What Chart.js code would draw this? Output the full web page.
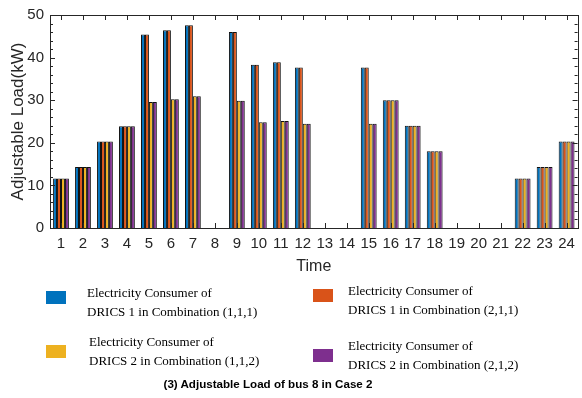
<!DOCTYPE html>
<html>
<head>
<meta charset="utf-8">
<script src="https://cdn.jsdelivr.net/npm/chart.js@4"></script>
<style>
  html, body { margin: 0; padding: 0; background: #fff; }
  #wrap { position: relative; width: 582px; height: 398px; }
  canvas { position: absolute; left: 0; top: 0; }
  .sw { position: absolute; width: 20px; height: 13px; }
  .lt { position: absolute; font-family: "Liberation Serif", "Times New Roman", serif; font-size: 13px; line-height: 19px; color: #000; white-space: nowrap; }
  #cap { position: absolute; left: 0; width: 536px; top: 377px; text-align: center; font-family: "Liberation Sans", Arial, sans-serif; font-weight: bold; font-size: 11.6px; color: #000; }
</style>
</head>
<body>
<div id="wrap">
  <canvas id="c" width="582" height="398"></canvas>
  <div class="sw" style="left:46px;top:291px;background:#0072BD"></div>
  <div class="lt" style="left:87px;top:283px">Electricity Consumer of<br>DRICS 1 in Combination (1,1,1)</div>
  <div class="sw" style="left:313px;top:289px;background:#D95319"></div>
  <div class="lt" style="left:348px;top:281px">Electricity Consumer of<br>DRICS 1 in Combination (2,1,1)</div>
  <div class="sw" style="left:46px;top:345px;background:#EDB120"></div>
  <div class="lt" style="left:89px;top:332px">Electricity Consumer of<br>DRICS 2 in Combination (1,1,2)</div>
  <div class="sw" style="left:313px;top:349px;background:#7E2F8E"></div>
  <div class="lt" style="left:348px;top:336px">Electricity Consumer of<br>DRICS 2 in Combination (2,1,2)</div>
  <div id="cap">(3) Adjustable Load of bus 8 in Case 2</div>
</div>
<script>
// Hours of the day
const hours = ['1','2','3','4','5','6','7','8','9','10','11','12','13','14','15','16','17','18','19','20','21','22','23','24'];

// Adjustable load (kW) per hour for each consumer / combination
const drics1Comb111 = [11.6, 14.3, 20.3, 23.9, 45.4, 46.4, 47.6, 0, 46.0, 38.3, 38.9, 37.7, 0, 0, 37.7, 30.0, 24.0, 18.0, 0, 0, 0, 11.6, 14.3, 20.3];
const drics1Comb211 = [11.6, 14.3, 20.3, 23.9, 45.4, 46.4, 47.6, 0, 46.0, 38.3, 38.9, 37.7, 0, 0, 37.7, 30.0, 24.0, 18.0, 0, 0, 0, 11.6, 14.3, 20.3];
const drics2Comb112 = [11.6, 14.3, 20.3, 23.9, 29.6, 30.2, 30.9, 0, 29.9, 24.8, 25.1, 24.5, 0, 0, 24.5, 30.0, 24.0, 18.0, 0, 0, 0, 11.6, 14.3, 20.3];
const drics2Comb212 = [11.6, 14.3, 20.3, 23.9, 29.6, 30.2, 30.9, 0, 29.9, 24.8, 25.1, 24.5, 0, 0, 24.5, 30.0, 24.0, 18.0, 0, 0, 0, 11.6, 14.3, 20.3];

const yTicks = [0, 10, 20, 30, 40, 50];

const axisColor = '#262626';
const tickFont = { family: '"Liberation Sans", Arial, sans-serif', size: 15 };

// Box around the plot plus inward-pointing tick marks on all four sides
const boxTicks = {
  id: 'boxTicks',
  afterDatasetsDraw(chart) {
    const { ctx, chartArea: a, scales: { x, y } } = chart;
    ctx.save();
    ctx.strokeStyle = axisColor;
    ctx.lineWidth = 1;
    ctx.beginPath();
    for (let v = 0; v <= 50; v += 2) {
      const py = Math.round(y.getPixelForValue(v)) + 0.5;
      const len = v % 10 === 0 ? 5 : 3;
      ctx.moveTo(a.left, py); ctx.lineTo(a.left + len, py);
      ctx.moveTo(a.right, py); ctx.lineTo(a.right - len, py);
    }
    for (let i = 0; i < hours.length; i++) {
      const px = Math.round(x.getPixelForValue(i)) + 0.5;
      ctx.moveTo(px, a.top); ctx.lineTo(px, a.top + 5);
      ctx.moveTo(px, a.bottom); ctx.lineTo(px, a.bottom - 5);
    }
    ctx.stroke();
    ctx.strokeRect(Math.round(a.left) + 0.5, Math.round(a.top) + 0.5,
                   Math.round(a.right - a.left), Math.round(a.bottom - a.top));
    ctx.restore();
  }
};

const mkSet = (label, data, color) => ({
  label, data,
  backgroundColor: color,
  borderColor: '#111',
  borderWidth: 1,
  borderSkipped: 'bottom',
  categoryPercentage: 0.72,
  barPercentage: 1.0
});

new Chart(document.getElementById('c'), {
  type: 'bar',
  data: {
    labels: hours,
    datasets: [
      mkSet('Electricity Consumer of DRICS 1 in Combination (1,1,1)', drics1Comb111, '#0072BD'),
      mkSet('Electricity Consumer of DRICS 1 in Combination (2,1,1)', drics1Comb211, '#D95319'),
      mkSet('Electricity Consumer of DRICS 2 in Combination (1,1,2)', drics2Comb112, '#EDB120'),
      mkSet('Electricity Consumer of DRICS 2 in Combination (2,1,2)', drics2Comb212, '#7E2F8E')
    ]
  },
  options: {
    responsive: false,
    animation: false,
    layout: { padding: { left: 0, top: 12, right: 3, bottom: 120 } },
    plugins: { legend: { display: false }, tooltip: { enabled: false } },
    scales: {
      x: {
        grid: { display: false, drawTicks: false, tickLength: 0 },
        border: { display: false },
        ticks: { color: axisColor, font: tickFont, padding: 7, maxRotation: 0, autoSkip: false },
        title: { display: true, text: 'Time', color: axisColor,
                 font: { family: '"Liberation Sans", Arial, sans-serif', size: 16 }, padding: { top: 0, bottom: 2 } },
        afterFit(s) { s.height = 50; }
      },
      y: {
        min: 0, max: 50,
        grid: { display: false, drawTicks: false, tickLength: 0 },
        border: { display: false },
        afterBuildTicks(s) { s.ticks = yTicks.map(v => ({ value: v })); },
        ticks: { color: axisColor, font: tickFont, padding: 6 },
        title: { display: true, text: 'Adjustable Load(kW)', color: axisColor,
                 font: { family: '"Liberation Sans", Arial, sans-serif', size: 17 }, padding: { top: 8, bottom: 0 } },
        afterFit(s) { s.width = 50; }
      }
    }
  },
  plugins: [boxTicks]
});
</script>
</body>
</html>
